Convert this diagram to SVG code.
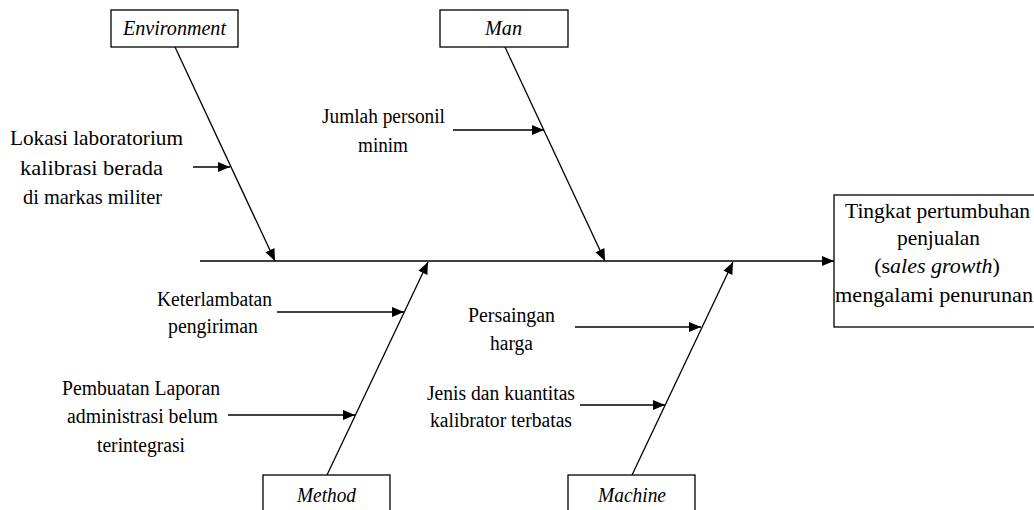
<svg xmlns="http://www.w3.org/2000/svg" width="1034" height="510" viewBox="0 0 1034 510" font-family="'Liberation Serif', 'Noto Serif', 'DejaVu Serif', FreeSerif, Times, serif">
<style>
text{fill:#000;font-size:20px}
.big{font-size:22px}
.it{font-style:italic}
.box{fill:#fff;stroke:#000;stroke-width:1.3}
.ln{stroke:#000;stroke-width:1.3;fill:none;marker-end:url(#ah)}
</style>
<defs>
<marker id="ah" markerUnits="userSpaceOnUse" markerWidth="13" markerHeight="11" refX="12" refY="5" orient="auto">
<path d="M0,0 L12,5 L0,10 Z" fill="#000"/>
</marker>
</defs>
<rect width="1034" height="510" fill="#fff"/>
<g id="connectors">
<line class="ln" x1="200" y1="261" x2="834" y2="261"/>
<line class="ln" x1="175" y1="47" x2="275" y2="261"/>
<line class="ln" x1="505" y1="47" x2="605" y2="261"/>
<line class="ln" x1="327" y1="475" x2="428" y2="262"/>
<line class="ln" x1="632" y1="475" x2="733" y2="262"/>
<line class="ln" x1="193" y1="167" x2="230" y2="167"/>
<line class="ln" x1="453" y1="130" x2="544" y2="130"/>
<line class="ln" x1="277" y1="312" x2="404" y2="312"/>
<line class="ln" x1="228" y1="415" x2="355" y2="415"/>
<line class="ln" x1="575" y1="327" x2="701" y2="327"/>
<line class="ln" x1="580" y1="405" x2="665" y2="405"/>
</g>
<g id="environment">
<rect class="box" x="111" y="10" width="127" height="37"/>
<text class="it" x="123" y="35" textLength="103" lengthAdjust="spacingAndGlyphs">Environment</text>
</g>
<g id="man">
<rect class="box" x="440" y="10" width="128" height="37"/>
<text class="it" x="485" y="35" textLength="37" lengthAdjust="spacingAndGlyphs">Man</text>
</g>
<g id="method">
<rect class="box" x="263" y="475" width="127" height="40"/>
<text class="it" x="297" y="502" textLength="59" lengthAdjust="spacingAndGlyphs">Method</text>
</g>
<g id="machine">
<rect class="box" x="568" y="475" width="127" height="40"/>
<text class="it" x="598" y="502" textLength="68" lengthAdjust="spacingAndGlyphs">Machine</text>
</g>
<g id="effect">
<rect class="box" x="834" y="195" width="210" height="132"/>
<text class="big" x="845" y="218" textLength="185" lengthAdjust="spacingAndGlyphs">Tingkat pertumbuhan</text>
<text class="big" x="897" y="245" textLength="83" lengthAdjust="spacingAndGlyphs">penjualan</text>
<text class="big" x="937" y="273" text-anchor="middle">(s<tspan class="it">ales growth</tspan>)</text>
<text class="big" x="835" y="302" textLength="198" lengthAdjust="spacingAndGlyphs">mengalami penurunan</text>
</g>
<g id="cause-lokasi">
<text class="big" x="10" y="145" textLength="173" lengthAdjust="spacingAndGlyphs">Lokasi laboratorium</text>
<text class="big" x="20" y="175" textLength="143" lengthAdjust="spacingAndGlyphs">kalibrasi berada</text>
<text class="big" x="23" y="204" textLength="139" lengthAdjust="spacingAndGlyphs">di markas militer</text>
</g>
<g id="cause-jumlah">
<text x="322" y="123" textLength="123" lengthAdjust="spacingAndGlyphs">Jumlah personil</text>
<text x="358" y="152" textLength="50" lengthAdjust="spacingAndGlyphs">minim</text>
</g>
<g id="cause-keterlambatan">
<text x="157" y="306" textLength="115" lengthAdjust="spacingAndGlyphs">Keterlambatan</text>
<text x="168" y="333" textLength="90" lengthAdjust="spacingAndGlyphs">pengiriman</text>
</g>
<g id="cause-pembuatan">
<text x="62" y="395" textLength="158" lengthAdjust="spacingAndGlyphs">Pembuatan Laporan</text>
<text x="67" y="423" textLength="151" lengthAdjust="spacingAndGlyphs">administrasi belum</text>
<text x="97" y="452" textLength="88" lengthAdjust="spacingAndGlyphs">terintegrasi</text>
</g>
<g id="cause-persaingan">
<text x="468" y="322" textLength="87" lengthAdjust="spacingAndGlyphs">Persaingan</text>
<text x="490" y="350" textLength="43" lengthAdjust="spacingAndGlyphs">harga</text>
</g>
<g id="cause-jenis">
<text x="427" y="400" textLength="148" lengthAdjust="spacingAndGlyphs">Jenis dan kuantitas</text>
<text x="430" y="427" textLength="142" lengthAdjust="spacingAndGlyphs">kalibrator terbatas</text>
</g>
</svg>
